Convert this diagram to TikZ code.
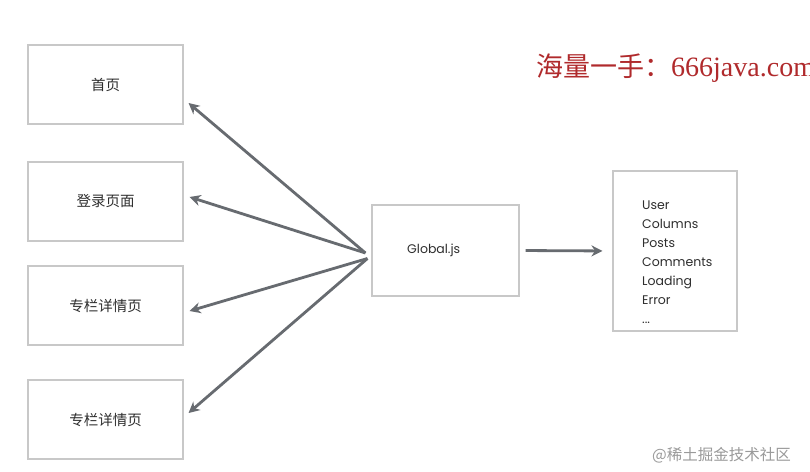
\documentclass[tikz,border=0pt]{standalone}
\usepackage{fontspec}
\setmainfont{Poppins}
\newfontfamily\cjk{Noto Sans CJK SC}
\newfontfamily\serifw{Liberation Serif}
\usetikzlibrary{arrows.meta,calc}
\definecolor{boxgray}{HTML}{C8C8C8}
\definecolor{arrowgray}{HTML}{676B70}
\definecolor{txtgray}{HTML}{2E2E2E}
\definecolor{wmred}{HTML}{B02A2C}
\definecolor{wmgray}{HTML}{9A9A9A}
\begin{document}
\begin{tikzpicture}[x=1pt,y=-1pt,
  box/.style={draw=boxgray, line width=1.1pt, rectangle, inner sep=0pt, text=txtgray},
  page/.style={box, minimum width=155pt, minimum height=79pt, font=\cjk\fontsize{14.5}{16}\selectfont},
  conn/.style={draw=arrowgray, line width=2.8pt, -{Stealth[length=11pt,width=11pt]}}]
\useasboundingbox[fill=white] (0,0) rectangle (810,471);
% left boxes
\node[page] (b1) at (105.5,84.5) {首页};
\node[page] (b2) at (105.5,201.5) {登录页面};
\node[page] (b3) at (105.5,305.5) {专栏详情页};
\node[page] (b4) at (105.5,419.5) {专栏详情页};
% Global.js
\node[box, minimum width=147pt, minimum height=91pt] (glob) at (445.5,250.5) {};
\node[anchor=west, inner sep=0pt, text=txtgray, font=\fontsize{12.5}{15}\selectfont] (globt) at (407,250.5) {Global.js};
% state list
\node[box, minimum width=124pt, minimum height=160pt] (list) at (675,251) {};
\node[anchor=west, inner sep=0pt, align=left, text=txtgray, font=\fontsize{12.5}{19}\selectfont] (listt) at (642,262) {User\\Columns\\Posts\\Comments\\Loading\\Error\\...};
% hubs
\coordinate (h1) at ($(glob.west)+(-6,2.5)$);
\coordinate (h2) at ($(glob.west)+(-4,8)$);
% connectors
\draw[conn] (h1) -- ($(b1.east)+(5,18.5)$);
\draw[conn] (h1) -- ($(b2.east)+(6,-4.5)$);
\draw[conn] (h2) -- ($(b3.east)+(6,5.5)$);
\draw[conn] (h2) -- ($(b4.east)+(5,-6.5)$);
\draw[conn, shorten <=6pt, shorten >=10pt] (glob.east) -- (list.west);
% watermarks
\node[anchor=west, inner sep=0pt, text=wmred] (wm) at (536,68) {{\cjk\fontsize{27}{30}\selectfont 海量一手：}{\serifw\fontsize{28}{30}\selectfont 666java.com}};
\node[anchor=west, inner sep=0pt, text=wmgray, font=\cjk\fontsize{15.5}{18}\selectfont] (wm2) at (652,455) {@稀土掘金技术社区};
\end{tikzpicture}
\end{document}
